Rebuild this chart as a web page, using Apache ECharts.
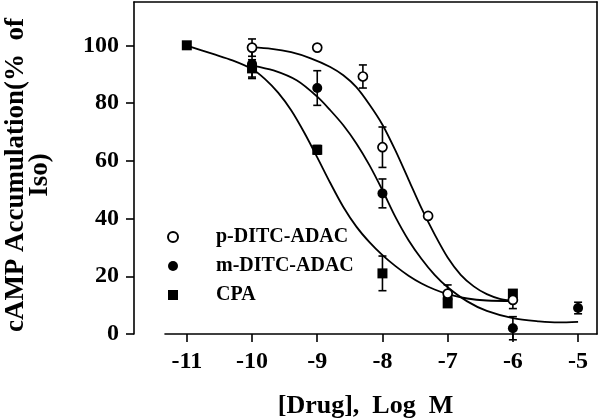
<!DOCTYPE html>
<html>
<head>
<meta charset="utf-8">
<script src="https://cdn.jsdelivr.net/npm/echarts@6/dist/echarts.min.js"></script>
<style>
  html, body { margin: 0; padding: 0; background: #fff; }
  #chart { width: 600px; height: 419px; }
</style>
</head>
<body>
<div id="chart"></div>
<script>
'use strict';

var xTicks = [-11, -10, -9, -8, -7, -6, -5];
var yTicks = [0, 20, 40, 60, 80, 100];

// measured points, mean and SEM
var pDitcX = [-10, -9, -8.3, -8, -7.3, -7, -6];
var pDitcY = [99.2, 99.2, 89.2, 64.7, 40.9, 14, 11.8];
var pDitcErr = [3, 0, 4, 7, 0, 3, 3];

var mDitcX = [-10, -9, -8, -7, -6, -5];
var mDitcY = [93.5, 85.2, 48.7, 12.5, 2, 9];
var mDitcErr = [5, 6, 5, 0, 4, 2];

var cpaX = [-11, -10, -9, -8, -7, -6];
var cpaY = [100, 92, 63.8, 21, 10.6, 14];
var cpaErr = [0, 3, 1.5, 6, 0, 0];

// fitted curves
var pFitX = [-10, -9.7, -9.4, -9.1, -8.8, -8.6, -8.4, -8.2, -8, -7.8, -7.6, -7.4, -7.2, -7, -6.8, -6.6, -6.4, -6.2, -6];
var pFitY = [99.3, 98.8, 97.6, 95.5, 92.5, 89.6, 85.5, 79.5, 72.5, 63.5, 53.5, 43.5, 34.5, 26.5, 20.5, 16.5, 13.8, 12.2, 11.5];

var mFitX = [-10, -9.67, -9.31, -9, -8.8, -8.6, -8.4, -8.2, -8, -7.8, -7.6, -7.4, -7.2, -7, -6.7, -6.4, -6, -5.6, -5.3, -5];
var mFitY = [93, 91.3, 87.8, 82.2, 77.5, 72.3, 66, 58.5, 49.8, 40.5, 32.5, 26, 20.5, 16.2, 11.3, 8, 5.5, 4.4, 4.0, 4.2];

var cpaFitX = [-11, -10.6, -10.3, -10, -9.8, -9.6, -9.4, -9.2, -9, -8.8, -8.6, -8.4, -8.2, -8, -7.8, -7.6, -7.4, -7.2, -7, -6.7, -6.4, -6];
var cpaFitY = [99.9, 97, 94.8, 91.8, 88.3, 83.6, 77.5, 69.8, 61.2, 52.3, 44, 37.2, 31.8, 27.3, 23.5, 20.2, 17.5, 15.4, 13.8, 12.3, 11.6, 11.4];

var FONT = 'Liberation Serif';

function pairs(xs, ys) {
    var out = [];
    for (var i = 0; i < xs.length; i++) out.push([xs[i], ys[i]]);
    return out;
}

function bars(xs, ys, es) {
    var out = [];
    for (var i = 0; i < xs.length; i++) {
        if (es[i] > 0) out.push([xs[i], ys[i] - es[i], ys[i] + es[i]]);
    }
    return out;
}

function renderErr(params, api) {
    var x = api.value(0);
    var lo = api.coord([x, api.value(1)]);
    var hi = api.coord([x, api.value(2)]);
    var w = 4;
    var st = { stroke: '#000', lineWidth: 1.6 };
    return {
        type: 'group',
        children: [
            { type: 'line', shape: { x1: lo[0], y1: lo[1], x2: hi[0], y2: hi[1] }, style: st },
            { type: 'line', shape: { x1: lo[0] - w, y1: lo[1], x2: lo[0] + w, y2: lo[1] }, style: st },
            { type: 'line', shape: { x1: hi[0] - w, y1: hi[1], x2: hi[0] + w, y2: hi[1] }, style: st }
        ]
    };
}

function errSeries(data) {
    return {
        type: 'custom',
        xAxisIndex: 0,
        yAxisIndex: 0,
        renderItem: renderErr,
        encode: { x: 0, y: [1, 2] },
        data: data,
        z: 2,
        silent: true
    };
}

function fitSeries(xs, ys) {
    return {
        type: 'line',
        xAxisIndex: 0,
        yAxisIndex: 0,
        data: pairs(xs, ys),
        smooth: 0.3,
        showSymbol: false,
        lineStyle: { color: '#000', width: 1.8 },
        z: 3,
        silent: true
    };
}

function frameLine() {
    return { show: true, onZero: false, lineStyle: { color: '#000', width: 1.6 } };
}

var labelStyle = { fontFamily: FONT, fontWeight: 'bold', fontSize: 24, color: '#000' };

var option = {
    animation: false,
    backgroundColor: '#fff',
    grid: [
        { left: 134, right: 3, top: 2, bottom: 85, outerBoundsMode: 'none' },
        { left: 165, right: 3, top: 2, bottom: 85, outerBoundsMode: 'none' }
    ],
    xAxis: [{
        gridIndex: 0,
        type: 'value',
        position: 'bottom',
        min: -11.81,
        max: -4.71,
        axisLine: { show: false, onZero: false },
        axisTick: { show: true, length: 8, customValues: xTicks, lineStyle: { color: '#000', width: 1.6 } },
        axisLabel: Object.assign({ customValues: xTicks, margin: 16 }, labelStyle),
        splitLine: { show: false },
        name: '[Drug],  Log  M',
        nameLocation: 'middle',
        nameGap: 59,
        nameTextStyle: { fontFamily: FONT, fontWeight: 'bold', fontSize: 26, color: '#000' }
    }, {
        gridIndex: 0,
        type: 'value',
        position: 'top',
        min: -11.81,
        max: -4.71,
        axisLine: frameLine(),
        axisTick: { show: false },
        axisLabel: { show: false },
        splitLine: { show: false }
    }, {
        gridIndex: 1,
        type: 'value',
        position: 'bottom',
        min: -11.33,
        max: -4.71,
        axisLine: frameLine(),
        axisTick: { show: false },
        axisLabel: { show: false },
        splitLine: { show: false }
    }],
    yAxis: [{
        gridIndex: 0,
        type: 'value',
        position: 'left',
        min: 0,
        max: 115,
        axisLine: frameLine(),
        axisTick: { show: true, length: 8, customValues: yTicks, lineStyle: { color: '#000', width: 1.6 } },
        axisLabel: Object.assign({ customValues: yTicks, margin: 15 }, labelStyle),
        splitLine: { show: false },
        name: 'cAMP Accumulation(%  of\nIso)',
        nameLocation: 'middle',
        nameRotate: 90,
        nameGap: 82,
        nameTextStyle: { fontFamily: FONT, fontWeight: 'bold', fontSize: 27, lineHeight: 24, color: '#000', align: 'center', padding: [0, 14, 0, 0] }
    }, {
        gridIndex: 0,
        type: 'value',
        position: 'right',
        min: 0,
        max: 115,
        axisLine: frameLine(),
        axisTick: { show: false },
        axisLabel: { show: false },
        splitLine: { show: false }
    }, {
        gridIndex: 1,
        type: 'value',
        min: 0,
        max: 115,
        show: false
    }],
    legend: {
        orient: 'vertical',
        left: 162,
        top: 222,
        itemWidth: 10,
        itemHeight: 10,
        itemGap: 9,
        data: ['p-DITC-ADAC', 'm-DITC-ADAC', 'CPA'],
        textStyle: { fontFamily: FONT, fontWeight: 'bold', fontSize: 20, lineHeight: 20, color: '#000', padding: [0, 0, 0, 33] }
    },
    series: [
        fitSeries(pFitX, pFitY),
        fitSeries(mFitX, mFitY),
        fitSeries(cpaFitX, cpaFitY),
        errSeries(bars(pDitcX, pDitcY, pDitcErr)),
        errSeries(bars(mDitcX, mDitcY, mDitcErr)),
        errSeries(bars(cpaX, cpaY, cpaErr)),
        {
            name: 'CPA',
            type: 'scatter',
            data: pairs(cpaX, cpaY),
            symbol: 'rect',
            symbolSize: 10,
            itemStyle: { color: '#000', opacity: 1 },
            z: 4
        },
        {
            name: 'm-DITC-ADAC',
            type: 'scatter',
            data: pairs(mDitcX, mDitcY),
            symbol: 'circle',
            symbolSize: 10,
            itemStyle: { color: '#000', opacity: 1 },
            z: 5
        },
        {
            name: 'p-DITC-ADAC',
            type: 'scatter',
            data: pairs(pDitcX, pDitcY),
            symbol: 'circle',
            symbolSize: 9,
            itemStyle: { color: '#fff', borderColor: '#000', borderWidth: 1.7, opacity: 1 },
            z: 6
        }
    ]
};

var chart = echarts.init(document.getElementById('chart'), null, { renderer: 'canvas' });
chart.setOption(option);
</script>
</body>
</html>
